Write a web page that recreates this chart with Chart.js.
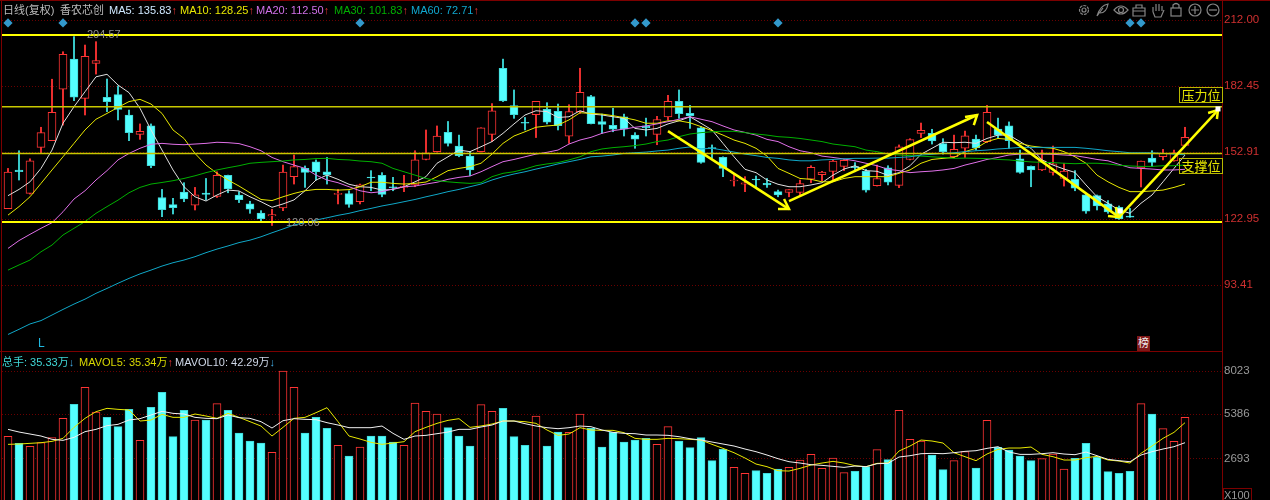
<!DOCTYPE html>
<html>
<head>
<meta charset="utf-8">
<script src="https://cdn.jsdelivr.net/npm/chart.js@4"></script>
<style>
  html, body { margin: 0; padding: 0; background: #000; width: 1270px; height: 500px; overflow: hidden; }
  canvas { position: absolute; left: 0; }
  #priceChart { top: 0; }
  #volChart { top: 351px; }
  .t { position: absolute; white-space: nowrap; font: 11px/14px "Liberation Sans", "Noto Sans CJK SC", sans-serif; }
  .rule { position: absolute; background: #7c0000; }
  .tag { position: absolute; left: 1179px; width: 42px; height: 14px; border: 1px solid #b8b800; color: #e8e800; text-align: center; font: 13px/14px "Noto Sans CJK SC", sans-serif; }
</style>
</head>
<body>
<canvas id="priceChart" width="1270" height="351"></canvas>
<canvas id="volChart" width="1270" height="149"></canvas>

<div class="rule" style="left:0;top:0;width:1270px;height:1px"></div>
<div class="rule" style="left:1px;top:0;width:1px;height:500px"></div>
<div class="rule" style="left:0;top:351px;width:1222px;height:1px"></div>
<div class="rule" style="left:1222px;top:0;width:1px;height:500px"></div>

<span class="t" style="left:3px;top:3px;color:#bbb">日线(复权)</span>
<span class="t" style="left:60px;top:3px;color:#bbb">香农芯创</span>
<span class="t" style="left:109px;top:3px;color:#cfe8ff">MA5: 135.83<span style="color:#e03030">↑</span></span>
<span class="t" style="left:180px;top:3px;color:#e8e800">MA10: 128.25<span style="color:#e03030">↑</span></span>
<span class="t" style="left:256px;top:3px;color:#d070e8">MA20: 112.50<span style="color:#e03030">↑</span></span>
<span class="t" style="left:334px;top:3px;color:#00b000">MA30: 101.83<span style="color:#e03030">↑</span></span>
<span class="t" style="left:411px;top:3px;color:#10a8d0">MA60: 72.71<span style="color:#e03030">↑</span></span>

<span class="t" style="left:2px;top:355px;color:#40d8d8">总手: 35.33万<span style="color:#40a8e0">↓</span></span>
<span class="t" style="left:79px;top:355px;color:#d8d800">MAVOL5: 35.34万<span style="color:#e03030">↑</span></span>
<span class="t" style="left:175px;top:355px;color:#cfd8e8">MAVOL10: 42.29万<span style="color:#40a8e0">↓</span></span>

<span class="t" style="left:87px;top:27px;color:#909090">204.57</span>
<span class="t" style="left:286px;top:215px;color:#909090">120.06</span>
<span class="t" style="left:38px;top:336px;color:#20b8e0;font-size:12px">L</span>
<span class="t" style="left:1137px;top:336px;width:13px;height:15px;background:#801818;color:#eee;text-align:center;font-size:11px">榜</span>

<div class="tag" style="top:87px">压力位</div>
<div class="tag" style="top:158px">支撑位</div>
<span class="t" style="left:1223px;top:488px;width:27px;height:12px;border:1px solid #7c0000;border-bottom:0;color:#999;line-height:13px">X100</span>

<svg style="position:absolute;left:0;top:0" width="1270" height="20" fill="none" stroke="#858585" stroke-width="1.2">
  <circle cx="1084" cy="10" r="4.5" stroke-dasharray="3 1"/><circle cx="1084" cy="10" r="2"/>
  <path d="M1097 16 C1099 9 1102 5 1108 4 C1107 10 1104 13 1100 13 M1097 16 L1103 8"/>
  <path d="M1114 10 Q1121 2 1128 10 Q1121 18 1114 10 Z"/><circle cx="1121" cy="10" r="2.5"/>
  <path d="M1133 8 H1145 V16 H1133 Z M1133 11 H1145 M1136 8 V5 H1142 V8"/>
  <path d="M1153 12 V7 M1156 11 V4 M1159 11 V4 M1162 11 V6 M1153 12 L1155 17 H1161 L1164 10"/>
  <rect x="1171" y="8" width="10" height="8"/><path d="M1173 8 V5 Q1176 2 1179 5 V8"/>
  <circle cx="1195" cy="10" r="6"/><path d="M1191 10 H1199 M1195 6 V14"/>
  <circle cx="1213" cy="10" r="6"/><path d="M1209 10 H1217"/>
</svg>

<script>
// oldest candle first
const opens = [127.6,144.9,134.4,155.0,158.0,181.0,194.5,176.9,192.6,177.4,178.6,169.5,160.8,164.6,132.6,129.4,135.0,129.1,134.6,133.1,142.5,133.7,129.7,125.6,124.3,127.9,141.9,145.6,148.5,
  144.1,134.0,134.3,130.7,141.7,142.5,137.4,137.1,138.2,149.6,153.1,161.7,155.6,151.1,153.1,160.8,190.4,173.7,166.2,169.6,172.0,171.1,160.0,171.0,177.7,166.6,164.9,168.7,160.5,
  164.6,160.8,168.6,175.6,170.2,163.8,154.9,150.5,140.0,138.6,140.8,138.9,135.2,134.9,134.9,140.8,142.8,144.3,146.5,146.4,144.4,137.9,145.9,138.0,149.6,161.3,161.3,156.7,150.8,
  154.6,158.7,157.6,163.2,164.6,149.9,146.5,144.9,143.8,141.1,140.7,133.8,133.4,129.7,128.2,124.3,145.8,150.2,150.8,149.0,155.9];
const highs = [145.6,153.5,149.9,164.0,185.5,197.8,204.57,200.8,202.3,185.6,182.5,171.7,165.5,165.5,136.2,132.2,139.2,137.1,141.1,144.1,142.6,135.2,130.9,126.7,127.3,147.1,151.6,146.7,149.4,
  150.5,136.2,135.6,138.6,144.6,143.7,141.6,142.5,153.5,162.8,164.6,166.6,160.5,153.1,163.8,174.6,194.5,180.7,168.4,175.6,175.0,174.4,174.1,190.4,178.3,169.9,172.5,169.9,161.6,
  168.1,168.9,178.3,180.7,173.8,164.3,156.1,150.8,143.1,141.9,142.2,141.1,135.9,136.1,140.4,146.8,144.3,149.6,149.6,148.2,145.2,147.1,146.8,156.1,158.9,165.9,163.1,158.9,160.5,
  162.3,160.5,173.8,168.1,166.4,153.8,146.7,153.8,155.6,147.9,144.6,134.1,133.7,131.2,128.8,127.7,148.9,153.5,154.1,153.8,164.0];
const lows = [127.6,140.4,134.1,152.6,158.0,165.0,175.9,169.5,187.8,171.0,167.3,158.0,158.6,145.9,124.0,125.2,130.7,127.0,131.5,132.6,134.7,130.3,125.5,121.9,120.06,126.7,138.6,137.1,140.4,
  138.6,129.7,128.2,129.7,135.6,132.9,135.6,135.2,137.4,149.4,152.9,155.6,150.8,142.3,152.9,157.6,175.5,168.0,162.8,159.4,165.5,162.8,156.8,170.2,165.5,161.3,162.0,160.1,154.6,
  160.1,156.2,167.3,168.0,163.5,147.9,150.1,141.9,137.7,135.2,137.4,137.1,132.9,132.9,133.2,139.2,140.1,140.4,144.6,144.1,135.0,137.7,138.2,137.0,149.4,159.4,156.5,152.0,150.5,
  150.5,153.8,157.1,159.0,154.6,143.4,137.4,144.6,142.6,137.7,135.6,125.5,127.0,125.5,122.8,123.7,137.3,146.4,149.4,148.8,155.8];
const closes = [144.0,144.1,149.0,161.6,170.7,196.6,177.5,195.8,193.8,175.5,172.0,161.6,162.2,146.8,127.1,128.0,131.9,133.8,134.0,142.5,136.4,131.6,127.4,123.1,124.9,144.0,146.4,143.8,144.0,
  142.8,134.4,129.5,138.3,141.3,134.0,137.0,137.6,149.4,152.6,160.1,156.8,151.3,144.9,163.8,171.4,175.8,169.6,165.8,175.6,166.3,164.7,171.0,179.6,165.6,165.3,163.1,163.1,158.7,
  163.7,167.5,175.6,170.1,169.2,148.3,154.4,145.6,140.4,139.1,140.4,138.2,133.7,136.1,138.8,146.1,144.0,148.9,149.2,145.9,135.9,141.1,139.4,155.3,158.5,162.6,157.9,153.1,154.1,
  160.2,154.9,170.7,160.5,158.0,143.8,144.9,149.0,147.7,144.4,136.8,126.5,128.8,126.1,123.1,123.8,148.9,148.3,152.3,152.6,159.5];
const ma5 = [133.4,136.2,139.6,145.6,153.8,165.8,173.2,179.9,186.6,187.7,182.9,179.5,172.5,162.8,153.8,144.9,137.4,132.9,131.0,133.7,135.9,135.5,132.9,130.7,128.2,129.7,131.5,135.6,140.4,
  142.6,140.7,138.5,137.4,137.1,135.9,136.2,137.4,139.6,141.9,147.9,150.8,153.8,153.1,155.3,157.6,161.3,165.5,169.5,171.4,171.0,168.4,168.7,171.4,169.9,169.5,168.7,168.0,163.5,
  162.8,163.5,165.5,166.9,168.7,165.8,162.8,156.8,150.8,145.2,143.7,140.4,138.5,137.4,137.4,138.2,139.2,142.6,145.3,146.8,144.6,144.3,142.5,143.7,146.8,151.9,154.6,157.3,157.1,
  157.3,156.8,159.0,160.5,160.5,157.6,154.6,149.4,147.1,145.3,143.8,138.2,132.9,130.0,127.0,125.5,130.0,133.7,139.6,145.6,151.6];
const ma10 = [124.7,128.5,132.9,138.9,144.9,150.8,156.8,162.8,167.6,170.2,172.9,175.5,176.5,174.4,170.2,162.8,159.0,152.3,147.1,143.4,140.4,137.7,134.7,131.7,131.2,132.9,134.4,135.6,136.2,
  136.2,135.9,136.1,137.4,139.4,139.4,138.9,138.6,138.9,139.5,141.9,144.6,145.6,146.4,147.9,152.0,156.8,160.1,162.0,164.0,164.6,165.0,167.3,170.5,170.2,169.9,169.2,168.3,167.3,
  165.8,165.8,166.9,166.9,166.0,164.3,162.5,160.5,158.3,156.8,154.6,151.1,145.6,143.4,141.1,140.7,139.6,139.6,141.1,141.9,141.9,141.9,141.9,143.4,144.9,147.9,149.6,150.1,150.5,
  153.1,154.6,157.6,159.0,158.6,156.8,155.6,155.0,154.6,153.1,150.8,147.9,142.6,139.6,137.1,135.2,135.2,135.5,135.9,137.1,138.6];
const ma20 = [109.8,113.3,116.1,118.8,121.3,126.2,131.9,135.6,140.4,144.6,149.4,152.3,154.6,156.4,156.8,156.4,156.2,156.5,156.8,157.3,157.1,156.7,155.3,153.5,150.5,148.6,147.1,145.6,142.6,
  140.4,139.2,137.4,135.6,134.7,135.2,136.4,137.4,137.7,138.6,139.4,140.7,141.6,142.2,144.1,146.4,148.6,149.6,150.8,152.0,152.8,153.8,156.5,158.3,159.5,161.3,162.5,163.2,164.0,
  164.6,165.5,166.5,167.6,168.7,167.6,166.5,164.6,162.8,161.7,160.5,158.6,157.6,155.3,153.5,152.6,151.1,150.5,149.8,149.0,147.9,146.8,145.2,144.6,143.7,144.1,144.4,144.9,145.6,
  147.1,148.3,149.6,150.5,151.6,152.0,152.0,152.0,151.9,151.6,151.3,150.5,149.6,149.0,147.4,145.9,145.6,145.3,144.9,144.9,145.2];
const ma30 = [100.1,102.4,104.6,108.3,111.3,115.8,118.8,121.8,125.5,128.5,131.4,134.7,137.1,138.6,139.3,140.1,141.1,142.3,143.7,144.9,145.9,146.8,147.9,148.3,148.6,148.9,149.4,149.6,150.0,
  150.1,149.6,149.4,148.9,148.6,147.9,145.6,144.1,142.6,141.1,140.1,139.6,139.2,138.9,139.2,141.9,143.4,144.1,145.3,146.8,147.6,148.2,149.4,150.8,153.1,154.3,154.9,155.3,155.8,
  156.5,157.6,158.3,159.8,161.0,161.6,162.0,162.2,162.2,161.6,161.0,160.5,159.8,159.5,159.0,158.3,157.6,156.5,155.9,155.3,153.8,153.1,152.0,151.6,151.3,151.1,150.8,150.5,150.1,
  150.2,150.1,150.0,149.6,149.4,148.9,148.5,148.3,148.2,147.9,147.7,147.9,147.9,147.6,147.0,146.7,146.5,146.5,146.8,146.8,147.1];
const ma60 = [71.3,73.6,76.0,77.5,80.0,82.5,84.9,87.1,89.7,91.9,94.2,96.4,98.4,100.1,101.9,103.4,104.6,106.1,107.9,109.5,110.9,112.4,113.5,115.0,116.8,118.5,120.3,121.3,122.5,
  123.5,124.6,125.5,126.7,127.7,128.8,129.7,130.7,131.7,132.9,134.0,135.2,136.2,137.4,138.6,140.4,141.9,143.1,144.1,145.3,146.4,147.6,148.6,149.6,150.8,151.1,151.6,152.3,152.6,
  152.9,153.4,153.8,154.6,155.2,154.3,154.6,153.8,152.9,152.0,151.3,150.5,150.1,149.4,149.0,149.0,149.4,149.6,149.9,150.1,150.1,150.2,150.2,150.5,150.8,151.6,151.9,152.3,152.6,
  153.1,153.5,153.8,154.3,154.6,155.0,155.0,155.0,155.0,155.0,155.0,154.6,154.1,153.5,153.1,152.6,152.6,152.6,152.3,152.0,151.7];
const volumes = [4037,3610,3426,3650,3955,5135,5989,7027,5522,5196,4627,5684,3793,5806,6722,4016,5623,5033,5033,6030,5623,4240,3752,3630,3060,8023,7027,4240,5196,
  4525,3487,2837,3386,4057,4057,3691,3487,6071,5562,5400,4566,4057,3447,5969,5562,5745,4016,3487,5277,3447,4301,4281,5400,4525,3386,4281,3691,3813,
  3915,3548,4627,3752,3345,3955,2552,3243,2145,1779,1942,1779,2043,2145,2593,2938,2084,2714,1820,1901,2186,3223,2613,5623,3854,3752,2898,2003,2552,
  3101,2104,5013,3365,3203,2837,2552,2674,2959,2043,2694,3610,2755,1881,1779,1901,6030,5400,4505,3732,5196];
const mavol5 = [3549,3569,3610,3650,3732,3915,4586,5135,5542,5745,5684,5644,4972,5033,5379,5196,5196,5400,5278,5135,5440,5196,4932,4667,4057,4586,5135,5196,5481,
  5786,4932,4057,3874,3671,3549,3630,3711,4322,4586,4830,5013,5115,4586,4667,4789,4972,4972,4932,4830,4423,4098,4179,4566,4423,4403,4403,4261,3915,
  3854,3854,3915,3894,3854,3813,3549,3304,3040,2715,2349,2186,1942,1921,2084,2288,2409,2511,2409,2247,2186,2389,2409,3142,3447,3813,3752,3630,3040,
  2796,2552,2959,3243,3325,3325,3386,2938,2796,2593,2593,2735,2816,2593,2532,2409,3000,3447,3915,4281,4871];
const mavol10 = [4464,4301,4179,4057,3854,3793,3976,4322,4464,4688,4769,5033,5115,5339,5562,5440,5400,5196,5135,5115,5339,5176,5135,4932,4545,4993,5115,5074,5054,
  4871,4728,4566,4566,4566,4667,4220,3854,4057,4098,4199,4301,4464,4464,4606,4728,4972,4972,4810,4667,4566,4504,4566,4667,4627,4423,4281,4220,4199,
  4118,4118,4098,4016,3894,3813,3691,3569,3447,3264,3101,2898,2674,2491,2409,2308,2267,2206,2145,2226,2186,2369,2389,2776,2857,2979,3000,2979,3040,
  3121,3162,3304,3406,3081,2938,2938,2979,3040,2959,2918,3081,2857,2633,2552,2491,2898,3101,3264,3406,3650];

const priceTicks = [212.00, 182.45, 152.91, 122.95, 93.41];
const volTicks = [8023, 5386, 2693];
const signalDays = [0, 5, 32, 57, 58, 70, 102, 103];
const heavyLevels = [205.3, 121.6];
const thinLevels = [173.2, 152.3];
// [day, price] polylines for the hand drawn arrows
const arrows = [
  [[60, 162.3], [71, 127.4]], [[70, 127.4], [71, 127.4], [70.55, 131.9]],
  [[71, 131], [88.1, 169.5]], [[87, 168.6], [88.1, 169.5], [87.8, 165]],
  [[89, 166.4], [101, 123.8]], [[100, 124.3], [101, 123.8], [100.7, 128.3]],
  [[101, 123.8], [110, 171.7]], [[109.1, 170.4], [110, 171.7], [109.9, 167.7]]
];
const handles = [[101.1, 126.6], [110, 172.2]];

const RED = "#ff3434";
const CYAN = "#54ffff";
const isUp = closes.map((c, i) => c >= opens[i]);
const bodyFill = isUp.map(u => u ? "#000" : CYAN);
const bodyEdge = isUp.map(u => u ? RED : "#3fd8d8");
const wickCol = isUp.map(u => u ? "#e82e2e" : "#38c8c8");

function pts(arr) { return arr.map((v, i) => ({ x: i, y: v })); }
function pairs(a, b) { return a.map((v, i) => ({ x: i, y: [v, b[i]] })); }
function maLine(arr, color) {
  return { type: "line", data: pts(arr), borderColor: color, borderWidth: 1, pointRadius: 0, tension: 0, order: 1 };
}

// 11px a day, first candle centred at x=8
const xAxis = { type: "linear", display: false, offset: false, min: -6 / 11, max: 1214 / 11 };
function yAxis(min, max, ticks, color, fmt) {
  return {
    position: "right", min: min, max: max,
    afterFit: s => { s.width = 48; s.paddingTop = 0; s.paddingBottom = 0; },
    afterBuildTicks: s => { s.ticks = ticks.map(v => ({ value: v })); },
    grid: { color: "#6a0000", drawTicks: false },
    border: { display: false, dash: [1, 2] },
    ticks: { color: color, padding: 2, font: { family: "Liberation Sans", size: 11.5 }, callback: fmt }
  };
}

const overlay = {
  id: "overlay",
  afterDatasetsDraw(chart) {
    const { ctx, chartArea: a, scales: { x, y } } = chart;
    ctx.save();
    ctx.strokeStyle = "#ffff00";
    heavyLevels.forEach(v => {
      ctx.lineWidth = 2;
      ctx.beginPath(); ctx.moveTo(a.left, y.getPixelForValue(v)); ctx.lineTo(a.right, y.getPixelForValue(v)); ctx.stroke();
    });
    ctx.strokeStyle = "#c8c800";
    thinLevels.forEach(v => {
      ctx.lineWidth = 1.5;
      ctx.beginPath(); ctx.moveTo(a.left, y.getPixelForValue(v)); ctx.lineTo(a.right, y.getPixelForValue(v)); ctx.stroke();
    });
    ctx.strokeStyle = "#ffff00";
    ctx.lineWidth = 2.5;
    arrows.forEach(line => {
      ctx.beginPath();
      line.forEach((p, i) => {
        const px = x.getPixelForValue(p[0]), py = y.getPixelForValue(p[1]);
        if (i === 0) ctx.moveTo(px, py); else ctx.lineTo(px, py);
      });
      ctx.stroke();
    });
    ctx.fillStyle = "#fff";
    handles.forEach(p => ctx.fillRect(x.getPixelForValue(p[0]) - 2.5, y.getPixelForValue(p[1]) - 2.5, 5, 5));
    ctx.restore();
  }
};

new Chart(document.getElementById("priceChart"), {
  type: "bar",
  plugins: [overlay],
  data: {
    datasets: [
      { data: signalDays.map(d => ({ x: d, y: 210.7 })), type: "line", showLine: false, pointStyle: "rectRot", pointRadius: 4.6, pointBackgroundColor: "#3399cc", pointBorderWidth: 0, order: 0 },
      maLine(ma60, "#10a8c8"),
      maLine(ma30, "#00b000"),
      maLine(ma20, "#e070e8"),
      maLine(ma10, "#e8e800"),
      maLine(ma5, "#e0e0e0"),
      { data: pairs(opens, closes), backgroundColor: bodyFill, borderColor: bodyEdge, borderWidth: 1, borderSkipped: false, barThickness: 8, order: 2 },
      { data: pairs(lows, highs), backgroundColor: wickCol, borderWidth: 0, barThickness: 1.4, order: 3 }
    ]
  },
  options: {
    responsive: false,
    animation: false,
    layout: { autoPadding: false, padding: { left: 2 } },
    datasets: { bar: { grouped: false } },
    plugins: { legend: { display: false }, tooltip: { enabled: false } },
    scales: {
      x: xAxis,
      y: yAxis(63.9, 220.95, priceTicks, "#d03030", v => v.toFixed(2))
    }
  }
});

new Chart(document.getElementById("volChart"), {
  type: "bar",
  data: {
    datasets: [
      maLine(mavol10, "#f0f0f0"),
      maLine(mavol5, "#e8e800"),
      { data: pts(volumes), backgroundColor: bodyFill, borderColor: bodyEdge, borderWidth: 1, borderSkipped: false, barThickness: 8, order: 2 }
    ]
  },
  options: {
    responsive: false,
    animation: false,
    layout: { autoPadding: false, padding: { left: 2 } },
    plugins: { legend: { display: false }, tooltip: { enabled: false } },
    scales: {
      x: xAxis,
      y: yAxis(154, 9243, volTicks, "#999", v => String(v))
    }
  }
});
</script>
</body>
</html>
